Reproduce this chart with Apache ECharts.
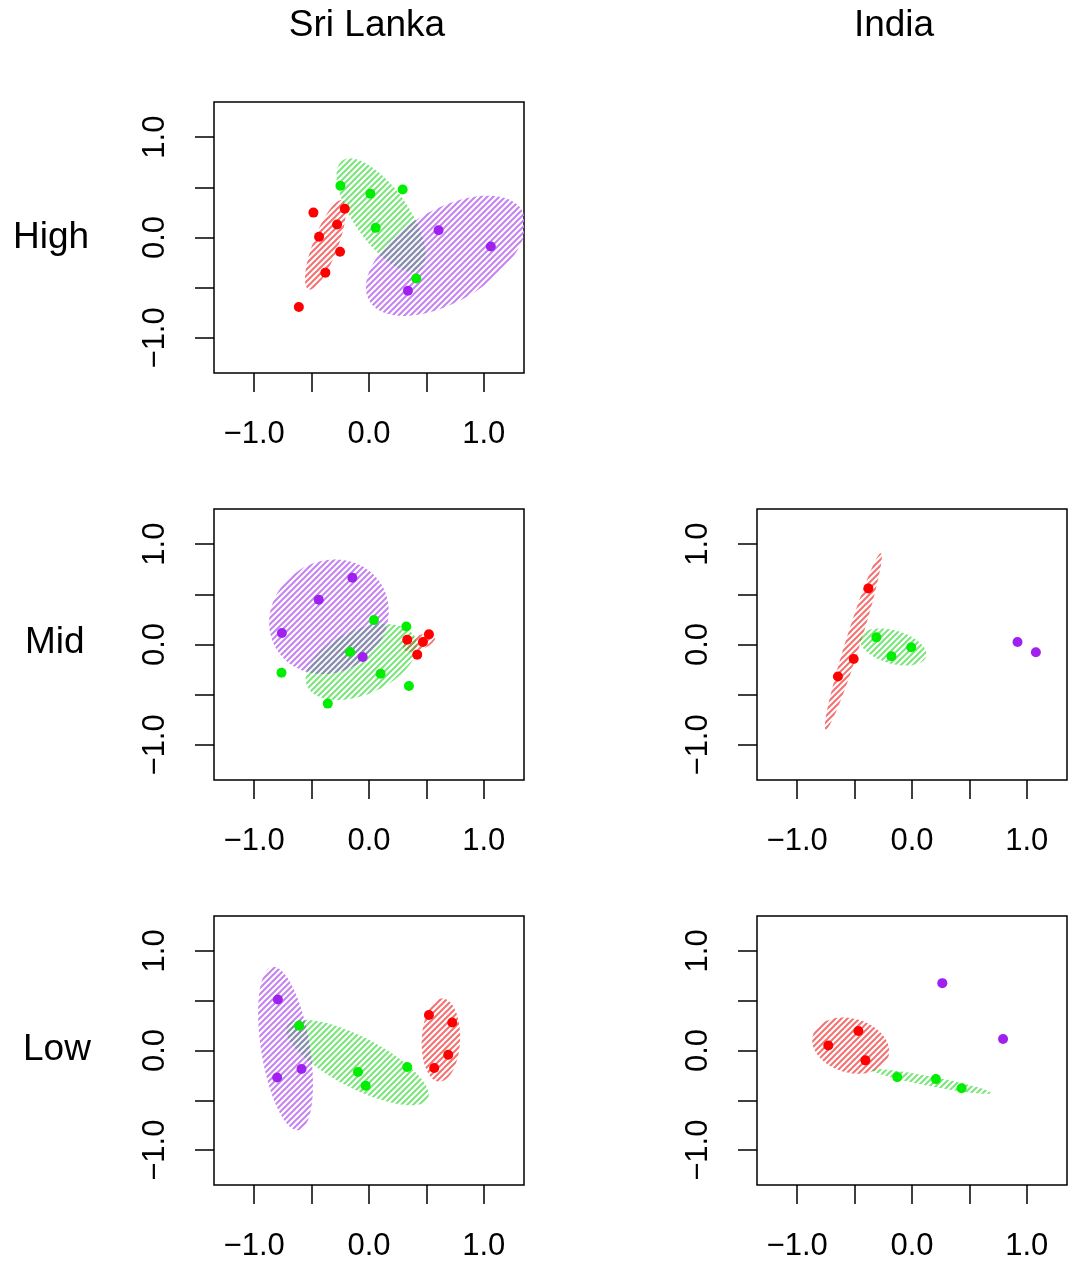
<!DOCTYPE html>
<html>
<head>
<meta charset="utf-8">
<script src="https://cdn.jsdelivr.net/npm/echarts@6/dist/echarts.min.js"></script>
<style>
html, body { margin: 0; padding: 0; background: #fff; }
#main { width: 1078px; height: 1262px; }
</style>
</head>
<body>
<div id="main"></div>
<script>
var columns = ['Sri Lanka', 'India'];
var rows = ['High', 'Mid', 'Low'];
var xTickValues = [-1, -0.5, 0, 0.5, 1];
var xLabelValues = [-1, 0, 1];

// points, one list per group and panel
var slHighG1 = [[-0.484, 0.248], [-0.211, 0.287], [-0.278, 0.129], [-0.435, 0.007], [-0.252, -0.142], [-0.380, -0.350], [-0.611, -0.693]];
var slHighG2 = [[-0.249, 0.515], [0.012, 0.436], [0.293, 0.478], [0.058, 0.096], [0.411, -0.409]];
var slHighG3 = [[0.606, 0.073], [1.061, -0.089], [0.339, -0.531]];

var slMidG1 = [[0.522, 0.101], [0.333, 0.048], [0.470, 0.025], [0.420, -0.101]];
var slMidG2 = [[0.043, 0.243], [0.325, 0.180], [-0.165, -0.074], [-0.762, -0.282], [0.101, -0.292], [0.348, -0.414], [-0.359, -0.589]];
var slMidG3 = [[-0.145, 0.665], [-0.438, 0.447], [-0.759, 0.114], [-0.055, -0.124]];

var inMidG1 = [[-0.380, 0.559], [-0.508, -0.144], [-0.645, -0.319]];
var inMidG2 = [[-0.310, 0.071], [-0.179, -0.117], [-0.007, -0.028]];
var inMidG3 = [[0.919, 0.025], [1.079, -0.077]];

var slLowG1 = [[0.522, 0.356], [0.725, 0.281], [0.690, -0.043], [0.568, -0.175]];
var slLowG2 = [[-0.609, 0.248], [-0.096, -0.215], [0.333, -0.165], [-0.029, -0.353]];
var slLowG3 = [[-0.794, 0.512], [-0.588, -0.185], [-0.800, -0.271]];

var inLowG1 = [[-0.729, 0.050], [-0.467, 0.195], [-0.406, -0.099]];
var inLowG2 = [[-0.129, -0.267], [0.208, -0.287], [0.432, -0.379]];
var inLowG3 = [[0.264, 0.676], [0.793, 0.116]];

// ellipses: centre x, centre y, semi-major, semi-minor, angle (deg), group
var slHighEllipses = [[-0.379, -0.073, 0.467, 0.11, 72, 0], [0.105, 0.223, 0.64, 0.246, -59.5, 1], [0.669, -0.182, 0.806, 0.44, 37, 2]];
var slMidEllipses = [[0.436, 0.018, 0.15, 0.07, 25, 0], [-0.067, -0.175, 0.53, 0.312, 30, 1], [-0.349, 0.276, 0.582, 0.508, 66, 2]];
var inMidEllipses = [[-0.511, 0.032, 0.911, 0.065, 74.7, 0], [-0.165, -0.025, 0.303, 0.163, -20, 1]];
var slLowEllipses = [[0.626, 0.105, 0.418, 0.167, 88, 0], [-0.100, -0.121, 0.713, 0.247, -31.7, 1], [-0.727, 0.019, 0.827, 0.213, -82.2, 2]];
var inLowEllipses = [[-0.534, 0.049, 0.347, 0.267, -24.2, 0], [0.170, -0.311, 0.53, 0.048, -12.6, 1]];

var panels = [
  { left: 214, top: 102, groups: [slHighG1, slHighG2, slHighG3], ellipses: slHighEllipses },
  { left: 214, top: 509, groups: [slMidG1, slMidG2, slMidG3], ellipses: slMidEllipses },
  { left: 757, top: 509, groups: [inMidG1, inMidG2, inMidG3], ellipses: inMidEllipses },
  { left: 214, top: 916, groups: [slLowG1, slLowG2, slLowG3], ellipses: slLowEllipses },
  { left: 757, top: 916, groups: [inLowG1, inLowG2, inLowG3], ellipses: inLowEllipses }
];

var FONT = 'Liberation Sans, Arial, Helvetica, sans-serif';
var pointColors = ['#ff0000', '#00ee00', '#a020f0'];
var hatchColors = ['#f57070', '#7ae67a', '#c482f2'];
// colour of the hatching where two ellipses overlap
var overlapColors = { '0-1': '#8f9a52', '0-2': '#b07aa8', '1-2': '#8890ac' };

function makeHatch(color) {
  var n = 6;
  var c = document.createElement('canvas');
  c.width = n;
  c.height = n;
  var ctx = c.getContext('2d');
  ctx.strokeStyle = color;
  ctx.lineWidth = 2;
  ctx.beginPath();
  ctx.moveTo(-1, n + 1); ctx.lineTo(n + 1, -1);
  ctx.moveTo(-1, 1); ctx.lineTo(1, -1);
  ctx.moveTo(n - 1, n + 1); ctx.lineTo(n + 1, n - 1);
  ctx.stroke();
  return { image: c, repeat: 'repeat' };
}
var hatches = hatchColors.map(makeHatch);
var overlapHatches = {};
for (var key in overlapColors) {
  overlapHatches[key] = makeHatch(overlapColors[key]);
}

function fmt(v) {
  return (v < 0 ? '\u2212' : '') + Math.abs(v).toFixed(1);
}

function ellipsePixels(e, api, cs) {
  var t = e[4] * Math.PI / 180;
  var pts = [];
  for (var k = 0; k < 90; k++) {
    var s = 2 * Math.PI * k / 90;
    var x = e[0] + e[2] * Math.cos(s) * Math.cos(t) - e[3] * Math.sin(s) * Math.sin(t);
    var y = e[1] + e[2] * Math.cos(s) * Math.sin(t) + e[3] * Math.sin(s) * Math.cos(t);
    pts.push(api.coord([x, y]));
  }
  return echarts.graphic.clipPointsByRect(pts, { x: cs.x, y: cs.y, width: cs.width, height: cs.height });
}

function makeRenderer(ellipses) {
  return function (params, api) {
    var idx = params.dataIndex;
    var e = ellipses[idx];
    var own = ellipsePixels(e, api, params.coordSys);
    var children = [{ type: 'polygon', shape: { points: own }, style: { fill: hatches[e[5]] } }];
    for (var k = 0; k < idx; k++) {
      var o = ellipses[k];
      var key = Math.min(o[5], e[5]) + '-' + Math.max(o[5], e[5]);
      children.push({
        type: 'polygon',
        shape: { points: own },
        style: { fill: overlapHatches[key] },
        clipPath: { type: 'polygon', shape: { points: ellipsePixels(o, api, params.coordSys) } }
      });
    }
    return { type: 'group', children: children };
  };
}

var grids = [], xAxes = [], yAxes = [], series = [];
panels.forEach(function (p, i) {
  grids.push({
    left: p.left, top: p.top, width: 310, height: 271,
    show: true, borderColor: '#000', borderWidth: 1.5, backgroundColor: 'transparent'
  });
  xAxes.push({
    gridIndex: i, type: 'value', min: -1.35, max: 1.35, position: 'bottom',
    axisLine: { show: false, onZero: false }, splitLine: { show: false },
    axisTick: { show: true, length: 19, customValues: xTickValues, lineStyle: { color: '#000', width: 1.5 } },
    axisLabel: { customValues: xLabelValues, formatter: fmt, fontSize: 31, color: '#000', fontFamily: FONT, margin: 46 }
  });
  yAxes.push({
    gridIndex: i, type: 'value', min: -1.35, max: 1.35, position: 'left',
    axisLine: { show: false, onZero: false }, splitLine: { show: false },
    axisTick: { show: true, length: 19, customValues: xTickValues, lineStyle: { color: '#000', width: 1.5 } },
    axisLabel: { customValues: xLabelValues, formatter: fmt, fontSize: 31, color: '#000', fontFamily: FONT, margin: 43, rotate: 90 }
  });
  series.push({
    type: 'custom', coordinateSystem: 'cartesian2d', xAxisIndex: i, yAxisIndex: i,
    data: p.ellipses, encode: { x: 0, y: 1 }, renderItem: makeRenderer(p.ellipses), silent: true, z: 2
  });
  p.groups.forEach(function (pts, g) {
    series.push({
      type: 'scatter', xAxisIndex: i, yAxisIndex: i, data: pts,
      symbolSize: 10, itemStyle: { color: pointColors[g], opacity: 1 }, silent: true, z: 3
    });
  });
});

var textStyle = function (text, x, y, align) {
  return {
    type: 'text', x: x, y: y,
    style: { text: text, fontSize: 37, fontFamily: FONT, fill: '#000', align: align, verticalAlign: 'middle' }
  };
};

var chart = echarts.init(document.getElementById('main'));
chart.setOption({
  backgroundColor: '#fff',
  animation: false,
  grid: grids,
  xAxis: xAxes,
  yAxis: yAxes,
  series: series,
  graphic: [
    textStyle(columns[0], 367, 26, 'center'),
    textStyle(columns[1], 894, 26, 'center'),
    textStyle(rows[0], 13, 238, 'left'),
    textStyle(rows[1], 25, 643, 'left'),
    textStyle(rows[2], 23, 1050, 'left')
  ]
});
</script>
</body>
</html>
